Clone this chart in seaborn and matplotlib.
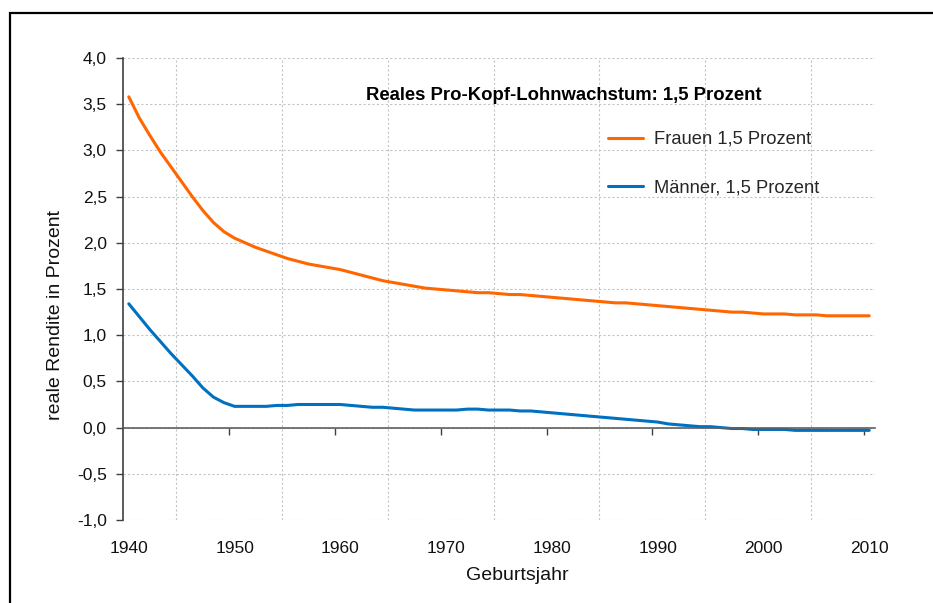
import numpy as np
import pandas as pd
import matplotlib
matplotlib.use("Agg")
import matplotlib.pyplot as plt
import matplotlib.patches as mpatches
from matplotlib.ticker import FuncFormatter
import seaborn as sns

# ---- data ----
years = list(range(1940, 2011))
frauen = [3.58, 3.35, 3.16, 2.98, 2.82, 2.66, 2.50, 2.35, 2.22, 2.12,
          2.05, 2.00, 1.95, 1.91, 1.87, 1.83, 1.80, 1.77, 1.75, 1.73,
          1.71, 1.68, 1.65, 1.62, 1.59, 1.57, 1.55, 1.53, 1.51, 1.50,
          1.49, 1.48, 1.47, 1.46, 1.46, 1.45, 1.44, 1.44, 1.43, 1.42,
          1.41, 1.40, 1.39, 1.38, 1.37, 1.36, 1.35, 1.35, 1.34, 1.33,
          1.32, 1.31, 1.30, 1.29, 1.28, 1.27, 1.26, 1.25, 1.25, 1.24,
          1.23, 1.23, 1.23, 1.22, 1.22, 1.22, 1.21, 1.21, 1.21, 1.21,
          1.21]
maenner = [1.34, 1.20, 1.06, 0.93, 0.80, 0.68, 0.56, 0.43, 0.33, 0.27,
           0.23, 0.23, 0.23, 0.23, 0.24, 0.24, 0.25, 0.25, 0.25, 0.25,
           0.25, 0.24, 0.23, 0.22, 0.22, 0.21, 0.20, 0.19, 0.19, 0.19,
           0.19, 0.19, 0.20, 0.20, 0.19, 0.19, 0.19, 0.18, 0.18, 0.17,
           0.16, 0.15, 0.14, 0.13, 0.12, 0.11, 0.10, 0.09, 0.08, 0.07,
           0.06, 0.04, 0.03, 0.02, 0.01, 0.01, 0.00, -0.01, -0.01, -0.02,
           -0.02, -0.02, -0.02, -0.03, -0.03, -0.03, -0.03, -0.03, -0.03, -0.03,
           -0.03]
series_names = ["Frauen 1,5 Prozent", "Männer, 1,5 Prozent"]
colors = ["#FF6600", "#0070C0"]
xtick_years = [1940, 1950, 1960, 1970, 1980, 1990, 2000, 2010]
title_text = "Reales Pro-Kopf-Lohnwachstum: 1,5 Prozent"
ylabel_text = "reale Rendite in Prozent"
xlabel_text = "Geburtsjahr"

df = pd.DataFrame({
    "Jahr": years * 2,
    "Wert": frauen + maenner,
    "Serie": [series_names[0]] * len(years) + [series_names[1]] * len(years),
})

sns.set_style("white")
plt.rcParams["font.family"] = ["Liberation Sans", "DejaVu Sans"]

fig = plt.figure(figsize=(9.33, 6.03), dpi=100)
ax = fig.add_axes([123.5 / 933, 83 / 603, 751 / 933, 462 / 603])

sns.lineplot(data=df, x="Jahr", y="Wert", hue="Serie", palette=colors,
             linewidth=2.2, ax=ax, legend=True)

ax.set_xlim(1939.5, 2010.5)
ax.set_ylim(-1, 4)

# y axis
ax.set_yticks(np.arange(-1, 4.01, 0.5))
ax.yaxis.set_major_formatter(FuncFormatter(lambda v, p: f"{v:.1f}".replace(".", ",")))
ax.tick_params(axis="y", which="major", direction="out", length=5, width=1,
               color="#404040", labelsize=12.5, pad=7, left=True, labelcolor="#111111")
ax.grid(axis="y", which="major", linestyle=(0, (2, 2)), color="#c4c4c4", linewidth=0.8)

# x axis: spine at y=0, tick marks at 10-year boundaries, gridlines at 5-year boundaries
ax.set_xticks(np.arange(1949.5, 2010, 10))
ax.set_xticks(np.arange(1944.5, 2010, 5), minor=True)
ax.tick_params(axis="x", which="major", direction="out", length=5, width=1,
               color="#404040", labelbottom=False, bottom=True)
ax.tick_params(axis="x", which="minor", length=0, labelbottom=False)
ax.grid(axis="x", which="minor", linestyle=(0, (2, 2)), color="#c4c4c4", linewidth=0.8)
ax.grid(axis="x", which="major", visible=False)

ax.spines["bottom"].set_position(("data", 0))
ax.spines["bottom"].set_color("#606060")
ax.spines["bottom"].set_linewidth(1.2)
ax.spines["left"].set_color("#404040")
ax.spines["left"].set_linewidth(1.2)
ax.spines["top"].set_visible(False)
ax.spines["right"].set_visible(False)

sec = ax.secondary_xaxis("bottom")
sec.set_xticks(xtick_years)
sec.set_xticklabels([str(y) for y in xtick_years])
sec.tick_params(length=0, labelsize=12.5, pad=15, labelcolor="#111111")
sec.spines["bottom"].set_visible(False)

ax.set_xlabel(xlabel_text, fontsize=14, color="#111111")
ax.xaxis.set_label_coords(0.525, -0.102)
ax.set_ylabel(ylabel_text, fontsize=14, color="#111111")
ax.yaxis.set_label_coords(-0.079, 0.444)

ax.text(0.323, 0.918, title_text, transform=ax.transAxes, fontsize=13.3,
        fontweight="bold", va="center", ha="left", color="#000000")

handles, labels = ax.get_legend_handles_labels()
leg = ax.legend(handles, labels, loc="upper left", bbox_to_anchor=(0.645, 0.842),
                frameon=False, fontsize=13.2, handlelength=1.92, handletextpad=0.6,
                labelspacing=1.72, borderpad=0, borderaxespad=0)
for line in leg.get_lines():
    line.set_linewidth(2.2)

frame = mpatches.Rectangle((10 / 933, -0.1), 2.0, (603 - 13) / 603 + 0.1,
                           transform=fig.transFigure, fill=False,
                           edgecolor="black", linewidth=1.6, clip_on=False)
fig.patches.append(frame)

fig.savefig("out.png", dpi=100, facecolor="white")
